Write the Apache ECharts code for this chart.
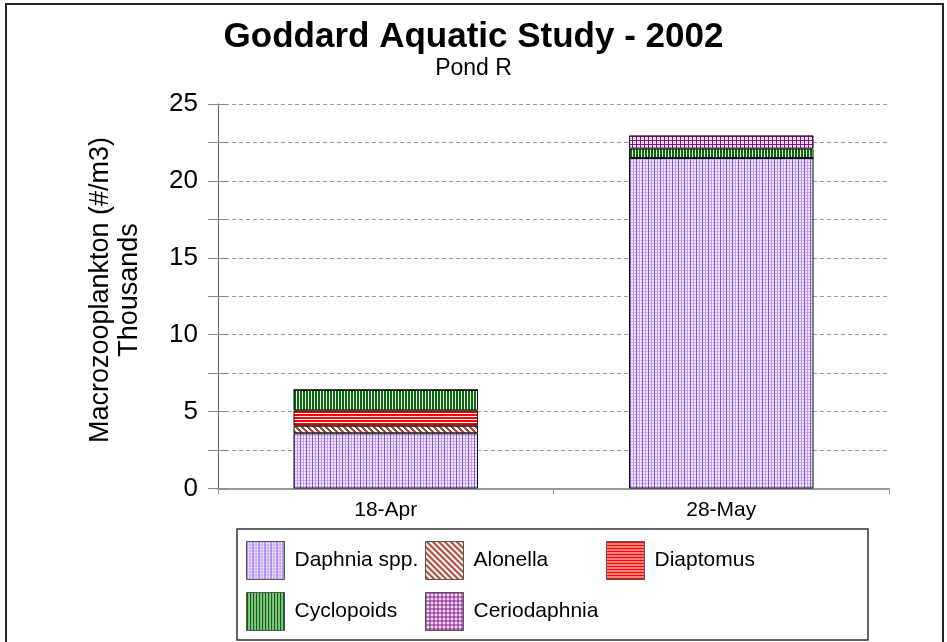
<!DOCTYPE html>
<html>
<head>
<meta charset="utf-8">
<script src="https://cdn.jsdelivr.net/npm/echarts@6/dist/echarts.min.js"></script>
<style>
html,body{margin:0;padding:0;background:#fff;}
#chart{width:947px;height:642px;}
</style>
</head>
<body>
<div id="chart"></div>
<script>
// ---- data (thousands of individuals per m3) ----
var categories = ['18-Apr', '28-May'];
var seriesNames = ['Daphnia spp.', 'Alonella', 'Diaptomus', 'Cyclopoids', 'Ceriodaphnia'];
var daphnia = [3.59, 21.49];
var alonella = [0.49, 0];
var diaptomus = [1.00, 0];
var cyclopoids = [1.33, 0.61];
var ceriodaphnia = [0, 0.86];
var yTicks = [0, 5, 10, 15, 20, 25];

// ---- pattern fills ----
function makePattern(w, h, painter) {
  var c = document.createElement('canvas');
  c.width = w; c.height = h;
  var ctx = c.getContext('2d');
  painter(ctx, w, h);
  return { image: c, repeat: 'repeat' };
}
function px(ctx, x, y, col) { ctx.fillStyle = col; ctx.fillRect(x, y, 1, 1); }

var patDaphnia = makePattern(6, 3, function (ctx, w, h) {
  ctx.fillStyle = '#efe8fc'; ctx.fillRect(0, 0, w, h);
  for (var x = 0; x < w; x++) px(ctx, x, 0, '#c9b0f3');
  for (var y = 0; y < h; y++) { px(ctx, 0, y, '#8f4fe3'); px(ctx, 3, y, '#bb9bf0'); }
});
var patAlonella = makePattern(6, 6, function (ctx, w, h) {
  ctx.fillStyle = '#ffffff'; ctx.fillRect(0, 0, w, h);
  for (var x = 0; x < w; x++) for (var y = 0; y < h; y++) {
    var d = ((x - y) % 6 + 6) % 6;
    if (d < 3) px(ctx, x, y, '#a8473a');
  }
});
var patDiaptomus = makePattern(3, 3, function (ctx, w, h) {
  ctx.fillStyle = '#ffffff'; ctx.fillRect(0, 0, w, h);
  ctx.fillStyle = '#ff0000'; ctx.fillRect(0, 0, w, 2);
});
var patCyclopoids = makePattern(3, 3, function (ctx, w, h) {
  ctx.fillStyle = '#ffffff'; ctx.fillRect(0, 0, w, h);
  ctx.fillStyle = '#006e00'; ctx.fillRect(0, 0, 2, h);
});
var patCerio = makePattern(4, 4, function (ctx, w, h) {
  ctx.fillStyle = '#f6e8f6'; ctx.fillRect(0, 0, w, h);
  ctx.fillStyle = '#86108a'; ctx.fillRect(0, 0, w, 1); ctx.fillRect(0, 0, 1, h);
  px(ctx, 2, 2, '#d8a8d8');
});

var seriesData = [daphnia, alonella, diaptomus, cyclopoids, ceriodaphnia];
var patterns = [patDaphnia, patAlonella, patDiaptomus, patCyclopoids, patCerio];

var chart = echarts.init(document.getElementById('chart'), null, { renderer: 'canvas' });

var FONT = '"Liberation Sans", Arial, sans-serif';

var series = seriesNames.map(function (name, i) {
  return {
    name: name,
    type: 'bar',
    stack: 'total',
    data: seriesData[i],
    barCategoryGap: '45%',
    itemStyle: { color: patterns[i], borderColor: '#111', borderWidth: 1 },
    emphasis: { disabled: true }
  };
});

var legendCommon = {
  orient: 'vertical',
  padding: 0,
  itemWidth: 38,
  itemHeight: 38,
  itemGap: 12,
  icon: 'rect',
  selectedMode: false,
  itemStyle: { borderColor: '#555', borderWidth: 1 },
  textStyle: { fontFamily: FONT, fontSize: 21, color: '#000', padding: [0, 0, 0, 5] }
};

var option = {
  animation: false,
  backgroundColor: '#fff',
  title: [
    { text: 'Goddard Aquatic Study - 2002', left: 'center', top: 15,
      textStyle: { fontFamily: FONT, fontSize: 35, fontWeight: 'bold', color: '#000' } },
    { text: 'Pond R', left: 'center', top: 52,
      textStyle: { fontFamily: FONT, fontSize: 23, fontWeight: 'normal', color: '#000' } }
  ],
  legend: [
    Object.assign({}, legendCommon, { left: 246, top: 541, data: [seriesNames[0], seriesNames[3]] }),
    Object.assign({}, legendCommon, { left: 425, top: 541, data: [seriesNames[1], seriesNames[4]] }),
    Object.assign({}, legendCommon, { left: 606, top: 541, data: [seriesNames[2]] })
  ],
  grid: { left: 218, right: 58, top: 104, bottom: 153.5, containLabel: false },
  xAxis: {
    type: 'category',
    data: categories,
    axisLine: { lineStyle: { color: '#999', width: 2 } },
    axisTick: { show: true, length: 6, lineStyle: { color: '#999' } },
    axisLabel: { fontFamily: FONT, fontSize: 21, color: '#000', margin: 11 },
    splitLine: { show: false }
  },
  yAxis: [
    {
      type: 'value', min: 0, max: 25, interval: 2.5,
      axisLine: { show: true, lineStyle: { color: '#666', width: 1 } },
      axisTick: { show: true, length: 10, lineStyle: { color: '#888' } },
      axisLabel: {
        fontFamily: FONT, fontSize: 26, color: '#000', margin: 20,
        formatter: function (v) { return yTicks.indexOf(v) >= 0 ? String(v) : ''; }
      },
      splitLine: { show: true, lineStyle: { color: '#9a9a9a', type: [4, 3], width: 1 } }
    },
    {
      type: 'value', min: 0, max: 25, interval: 2.5, position: 'left',
      axisLine: { show: false },
      axisTick: { show: true, inside: true, length: 10, lineStyle: { color: '#888' } },
      axisLabel: { show: false },
      splitLine: { show: false }
    }
  ],
  series: series,
  graphic: [
    {
      type: 'text', x: 115, y: 290, rotation: Math.PI / 2,
      style: {
        text: 'Macrozooplankton (#/m3)\nThousands',
        fontFamily: FONT, fontSize: 27, lineHeight: 29, fill: '#000',
        align: 'center', verticalAlign: 'middle'
      }
    },
    {
      type: 'rect', shape: { x: 237, y: 529, width: 631, height: 111 },
      style: { fill: 'none', stroke: '#333', lineWidth: 1.5 }, z: -1
    },
    {
      type: 'rect', shape: { x: 6, y: 4, width: 937, height: 650 },
      style: { fill: 'none', stroke: '#222', lineWidth: 2 }, z: -1
    }
  ]
};

chart.setOption(option);
</script>
</body>
</html>
